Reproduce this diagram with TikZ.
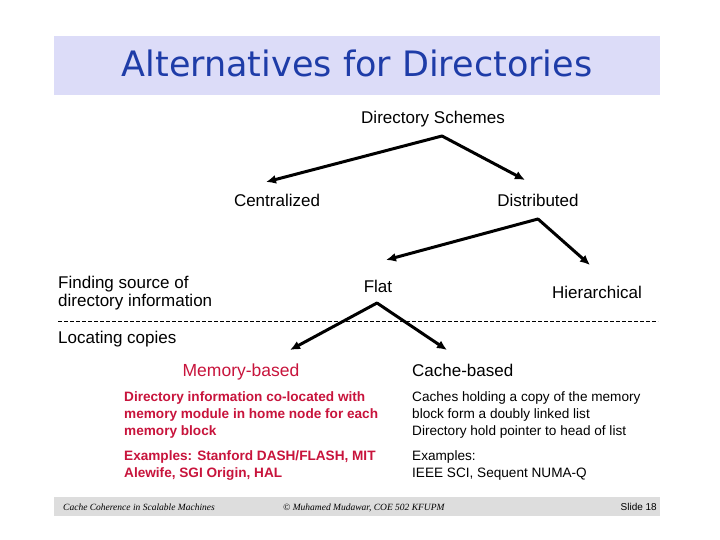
\documentclass[tikz,border=0pt]{standalone}
\usepackage{fontspec}
\setmainfont{Liberation Sans}
\newfontfamily\titlefont{DejaVu Sans}
\newfontfamily\footfont{Liberation Serif}
\usetikzlibrary{arrows.meta}
\definecolor{band}{HTML}{DCDCF8}
\definecolor{titleblue}{HTML}{1E3CA8}
\definecolor{memred}{HTML}{C8143C}
\definecolor{footgray}{HTML}{DDDDDD}

\tikzset{
  lbl/.style={inner sep=0pt,font=\fontsize{17}{18}\selectfont},
  body/.style={inner sep=0pt,align=left,anchor=north west,font=\fontsize{13.6}{17}\selectfont},
  branch/.style={->,line width=3pt,line cap=round,line join=miter}
}

\begin{document}
\begin{tikzpicture}[x=1pt,y=-1pt,>={Latex[length=10pt,width=9pt]}]
  \useasboundingbox (0,0) rectangle (720,540);
  \fill[white] (0,0) rectangle (720,540);

  % title band
  \fill[band] (54,36) rectangle (660,95);
  \node[anchor=base,inner sep=0pt,titleblue,font=\titlefont\fontsize{35}{38}\selectfont] (title) at (357,77) {Alternatives for Directories};

  \node[lbl,anchor=base] (schemes) at (433,124) {Directory Schemes};
  \node[lbl,anchor=base] (central) at (277,207) {Centralized};
  \node[lbl,anchor=base] (distrib) at (538,207) {Distributed};
  \node[lbl,anchor=north west,align=left,font=\fontsize{17}{18}\selectfont] (finding) at (58,275.5) {Finding source of\\directory information};
  \node[lbl,anchor=base] (flat) at (378,292) {Flat};
  \node[lbl,anchor=base] (hier) at (597,298) {Hierarchical};
  \node[lbl,anchor=base west] (locating) at (58,343) {Locating copies};
  \node[lbl,anchor=base,memred,font=\fontsize{17.5}{18}\selectfont] (membased) at (241,376) {Memory-based};
  \node[lbl,anchor=base west] (cachebased) at (412,376) {Cache-based};

  \draw[dash pattern=on 3.5pt off 2.5pt,line width=1pt] (58,321) coordinate (sepL) -- (658,321) coordinate (sepR);

  % branch points and arrow ends
  \coordinate (schTip) at (442,136);
  \coordinate (cenEnd) at (266,182);
  \coordinate (disEnd) at (525,180);
  \coordinate (disTip) at (538,219);
  \coordinate (flatEnd) at (386,260);
  \coordinate (hierEnd) at (590,265);
  \coordinate (flatTip) at (377,303);
  \coordinate (memEnd) at (290,350);
  \coordinate (cacheEnd) at (447,350);
  \draw[branch] (schTip) -- (cenEnd);
  \draw[branch] (schTip) -- (disEnd);
  \draw[branch] (disTip) -- (flatEnd);
  \draw[branch] (disTip) -- (hierEnd);
  \draw[branch] (flatTip) -- (memEnd);
  \draw[branch] (flatTip) -- (cacheEnd);

  \node[body,memred,font=\bfseries\fontsize{13.6}{17}\selectfont] (memtext) at (124,391.5) {Directory information co-located with\\memory module in home node for each\\memory block};
  \node[body,memred,font=\bfseries\fontsize{13.6}{17}\selectfont] (memex) at (124,450.5) {Examples: Stanford DASH/FLASH, MIT\\Alewife, SGI Origin, HAL};
  \node[body] (cachetext) at (412,391.5) {Caches holding a copy of the memory\\block form a doubly linked list\\Directory hold pointer to head of list};
  \node[body] (cacheex) at (412,450.5) {Examples:\\IEEE SCI, Sequent NUMA-Q};

  % footer
  \fill[footgray] (54,497) rectangle (660,516);
  \node[inner sep=0pt,anchor=base west,font=\footfont\itshape\fontsize{9.5}{10}\selectfont] (footL) at (63,510) {Cache Coherence in Scalable Machines};
  \node[inner sep=0pt,anchor=base west,font=\footfont\itshape\fontsize{9.5}{10}\selectfont] (footM) at (283,510) {\textcopyright{} Muhamed Mudawar, COE 502 KFUPM};
  \node[inner sep=0pt,anchor=base east,font=\fontsize{10}{11}\selectfont] (footR) at (657,510.5) {Slide 18};
\end{tikzpicture}
\end{document}
